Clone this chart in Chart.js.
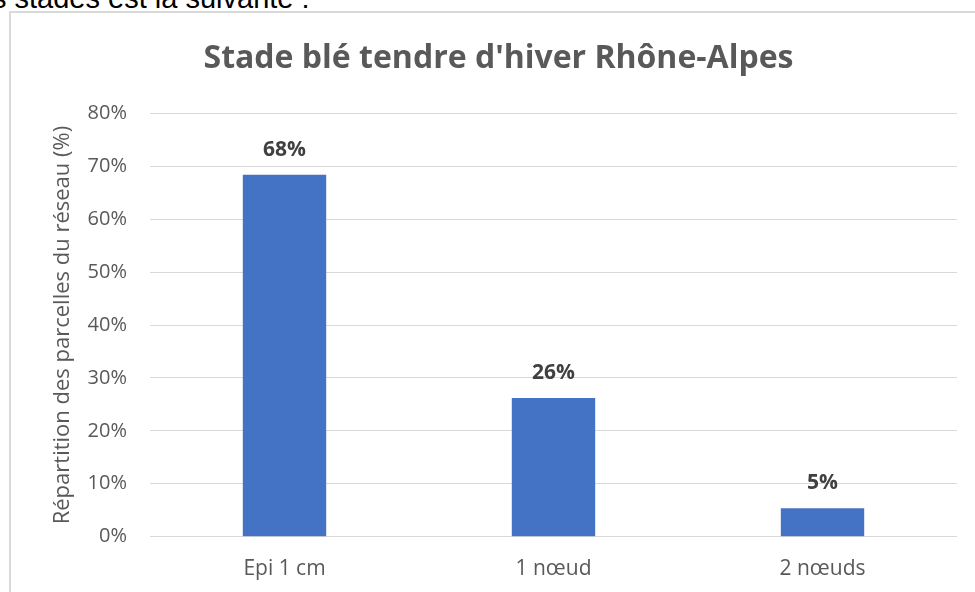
<!DOCTYPE html>
<html>
<head>
<meta charset="utf-8">
<script src="https://cdn.jsdelivr.net/npm/chart.js@4"></script>
<style>
  html, body { margin:0; padding:0; background:#fff; width:975px; height:592px; overflow:hidden; }
  #doc { position:absolute; left:-8px; top:-16px; font-family:"Liberation Sans", Arial, sans-serif; font-size:29px; line-height:1; color:#000; white-space:nowrap; }
  #frame { position:absolute; left:9px; top:11px; width:1000px; height:640px; border:2px solid #d9d9d9; box-sizing:border-box; }
  #c { position:absolute; left:0; top:0; }
</style>
</head>
<body>
<div id="doc">s stades est la suivante :</div>
<div id="frame"></div>
<canvas id="c" width="975" height="592"></canvas>
<script>
const categories = ["Epi 1 cm", "1 nœud", "2 nœuds"];
const values = [68.4, 26.2, 5.4];
const yTicks = [0, 10, 20, 30, 40, 50, 60, 70, 80];
const chartTitle = "Stade blé tendre d'hiver Rhône-Alpes";
const yTitle = "Répartition des parcelles du réseau (%)";

const FONT = "'Open Sans', sans-serif";
const GREY = "#595959";

const barLabels = {
  id: 'barLabels',
  afterDatasetsDraw(chart) {
    const ctx = chart.ctx;
    const meta = chart.getDatasetMeta(0);
    ctx.save();
    ctx.font = "bold 21px " + FONT;
    ctx.fillStyle = "#404040";
    ctx.textAlign = "center";
    ctx.textBaseline = "middle";
    meta.data.forEach((bar, i) => {
      ctx.fillText(Math.round(values[i]) + "%", bar.x, bar.y - 25);
    });
    ctx.restore();
  }
};

new Chart(document.getElementById('c'), {
  type: 'bar',
  data: {
    labels: categories,
    datasets: [{
      data: values,
      backgroundColor: '#4472C4',
      borderWidth: 0,
      barPercentage: 0.31,
      categoryPercentage: 1
    }]
  },
  options: {
    responsive: false,
    animation: false,
    devicePixelRatio: 1,
    layout: { padding: { left: 40, right: 18, top: 0, bottom: 0 } },
    plugins: {
      legend: { display: false },
      tooltip: { enabled: false },
      title: {
        display: true,
        text: chartTitle,
        color: GREY,
        font: { family: FONT, size: 32, weight: 'bold' },
        padding: { top: 40, bottom: 35 }
      }
    },
    scales: {
      x: {
        grid: { display: false, drawTicks: false },
        border: { display: false },
        ticks: { color: GREY, font: { family: FONT, size: 21 }, padding: 20 },
        afterFit(scale) { scale.height = 55.3; }
      },
      y: {
        min: 0, max: 80,
        afterBuildTicks(scale) { scale.ticks = yTicks.map(v => ({ value: v })); },
        grid: { color: '#d9d9d9', lineWidth: 1, drawTicks: false },
        border: { display: false },
        ticks: { color: GREY, font: { family: FONT, size: 20 }, padding: 23, callback: v => v + '%' },
        title: { display: true, text: yTitle, color: GREY, font: { family: FONT, size: 22 }, padding: { top: 10, bottom: 0 } },
        afterFit(scale) { scale.width = 110; }
      }
    }
  },
  plugins: [barLabels]
});
</script>
</body>
</html>
